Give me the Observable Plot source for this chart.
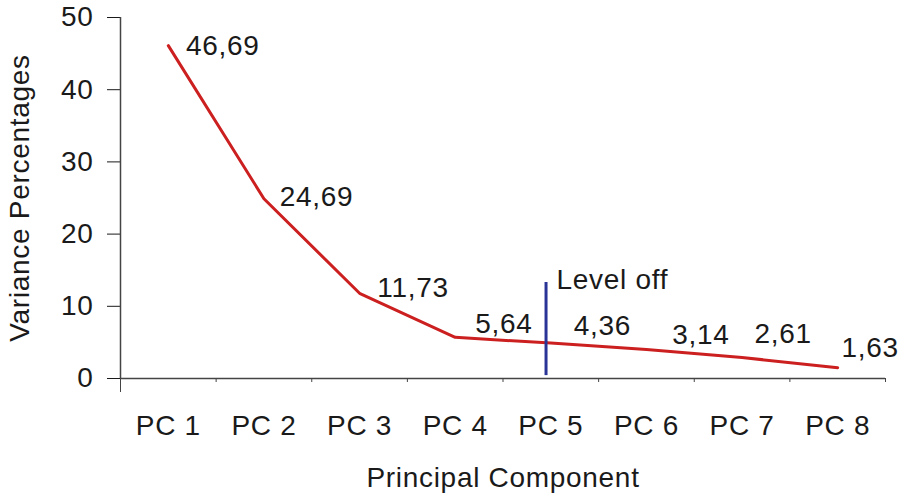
<!DOCTYPE html>
<html><head><meta charset="utf-8">
<script src="https://cdn.jsdelivr.net/npm/d3@7"></script>
<script src="https://cdn.jsdelivr.net/npm/@observablehq/plot@0.6"></script>
<style>
body{margin:0;background:#fff}
svg{font-family:"Liberation Sans",Arial,sans-serif}
svg text{letter-spacing:0.7px}
</style>
</head><body><div id="chart"></div>
<script>
const components = ["PC 1","PC 2","PC 3","PC 4","PC 5","PC 6","PC 7","PC 8"];
const variance = [46.1, 24.9, 11.8, 5.7, 4.9, 4.0, 2.9, 1.5];
const valueLabels = ["46,69","24,69","11,73","5,64","4,36","3,14","2,61","1,63"];
const labelX = [1.57, 2.55, 3.56, 4.51, 5.54, 6.57, 7.43, 8.34];
const labelY = [46.1, 25.1, 12.5, 7.6, 7.3, 6.0, 6.2, 4.2];
const yTicks = [0, 10, 20, 30, 40, 50];
const levelOffLine = [{x: 4.95, y1: 0.4, y2: 13.3}];
const levelOffText = [{x: 5.06, y: 13.6, text: "Level off"}];

const series = components.map((c, i) => ({x: i + 1, y: variance[i]}));
const labelData = valueLabels.map((t, i) => ({x: labelX[i], y: labelY[i], text: t}));
const boundaries = components.map((c, i) => i + 1.5);

const chart = Plot.plot({
  width: 901, height: 498,
  marginLeft: 120, marginRight: 16, marginTop: 17, marginBottom: 120,
  style: {fontFamily: '"Liberation Sans", Arial, sans-serif', background: "#fff"},
  x: {type: "linear", domain: [0.5, 8.5]},
  y: {domain: [0, 50]},
  marks: [
    Plot.axisY({ticks: yTicks, tickSize: 13, tickPadding: 14, fontSize: 28, color: "#1a1a1a",
      label: "Variance Percentages", labelAnchor: "center", labelArrow: "none", labelOffset: 111}),
    Plot.axisX({ticks: components.map((c, i) => i + 1), tickSize: 0, tickPadding: 37,
      tickFormat: d => components[d - 1], fontSize: 28, color: "#1a1a1a",
      label: "Principal Component", labelAnchor: "center", labelArrow: "none", labelOffset: 108}),
    Plot.axisX({ticks: [0.5], tickSize: 14, tickFormat: () => "", label: null, color: "#444"}),
    Plot.axisX({ticks: boundaries, tickSize: 4, tickFormat: () => "", label: null, color: "#444"}),
    Plot.ruleX([0.5], {stroke: "#444", strokeWidth: 1.5}),
    Plot.ruleY([0], {stroke: "#444", strokeWidth: 1.5}),
    Plot.line(series, {x: "x", y: "y", stroke: "#cc1f1f", strokeWidth: 3}),
    Plot.ruleX(levelOffLine, {x: "x", y1: "y1", y2: "y2", stroke: "#2a3496", strokeWidth: 3}),
    Plot.text(levelOffText, {x: "x", y: "y", text: "text", textAnchor: "start", fontSize: 28, fill: "#1a1a1a"}),
    Plot.text(labelData, {x: "x", y: "y", text: "text", fontSize: 28, fill: "#1a1a1a"})
  ]
});
document.getElementById("chart").append(chart);
</script>
</body></html>
